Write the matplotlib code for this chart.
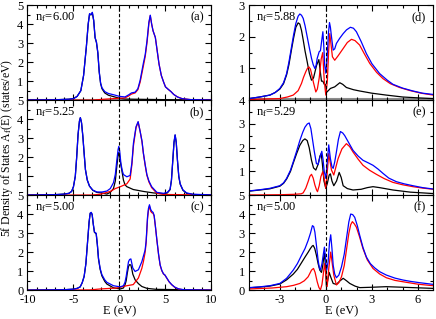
import numpy as np
import matplotlib
matplotlib.use("Agg")
import matplotlib.pyplot as plt
from matplotlib.ticker import MultipleLocator

plt.rcParams['font.family'] = ['Liberation Serif', 'DejaVu Serif']
plt.rcParams['mathtext.fontset'] = 'stix'
plt.rcParams['axes.unicode_minus'] = False
plt.rcParams['font.size'] = 9

# --- datos: (E, A_f) ---
# columna izquierda
a_blue = [(-10, 0.01), (-7, 0.02), (-5.5, 0.05), (-5, 0.08), (-4.6, 0.2), (-4.2, 0.5), (-3.9, 1.3), (-3.6, 2.8),
          (-3.4, 4.0), (-3.25, 4.55), (-3.1, 4.5), (-2.95, 4.62), (-2.8, 4.2), (-2.65, 3.3), (-2.5, 3.05),
          (-2.35, 2.5), (-2.2, 1.5), (-2.05, 0.9), (-1.9, 0.65), (-1.6, 0.45), (-1.2, 0.35), (-0.6, 0.28),
          (0, 0.2), (0.6, 0.17), (1.0, 0.28), (1.3, 0.38), (1.7, 0.42), (2.0, 0.6), (2.25, 1.05), (2.6, 1.95),
          (2.8, 2.4), (3.0, 3.15), (3.2, 4.1), (3.35, 4.47), (3.5, 4.0), (3.65, 3.65), (3.9, 3.3), (4.1, 2.6),
          (4.3, 1.9), (4.55, 1.3), (4.8, 0.95), (5.0, 0.7), (5.3, 0.57), (5.6, 0.45), (5.9, 0.3), (6.3, 0.17),
          (6.8, 0.08), (7.7, 0.03), (10, 0.01)]
a_red = [(-10, 0), (-3, 0), (-2.2, 0.03), (-1, 0.07), (0, 0.1), (0.6, 0.12), (1.0, 0.22), (1.3, 0.32), (1.7, 0.38),
         (2.0, 0.55), (2.25, 0.95), (2.6, 1.8), (2.8, 2.3), (3.0, 3.05), (3.2, 4.05), (3.35, 4.45), (3.5, 4.0),
         (3.65, 3.65), (3.9, 3.3), (4.1, 2.6), (4.3, 1.9), (4.55, 1.3), (4.8, 0.95), (5.0, 0.7), (5.3, 0.57),
         (5.6, 0.45), (5.9, 0.3), (6.3, 0.17), (6.8, 0.08), (7.7, 0.03), (10, 0.01)]
a_black = [(-10, 0.01), (-7, 0.02), (-5.5, 0.05), (-5, 0.08), (-4.6, 0.2), (-4.2, 0.5), (-3.9, 1.3), (-3.6, 2.8),
           (-3.4, 4.0), (-3.25, 4.53), (-3.1, 4.48), (-2.95, 4.6), (-2.8, 4.18), (-2.65, 3.28), (-2.5, 3.03),
           (-2.35, 2.48), (-2.2, 1.47), (-2.05, 0.87), (-1.9, 0.6), (-1.6, 0.38), (-1.2, 0.26), (-0.6, 0.18),
           (0, 0.1), (0.6, 0.06), (1.5, 0.05), (3, 0.04), (6, 0.02), (10, 0.01)]

b_blue = [(-10, 0.01), (-7, 0.03), (-6, 0.06), (-5.5, 0.1), (-5.2, 0.2), (-5.0, 0.45), (-4.8, 1.0), (-4.65, 2.0),
          (-4.5, 3.2), (-4.35, 3.9), (-4.25, 4.08), (-4.12, 3.8), (-3.98, 3.1), (-3.84, 2.2), (-3.7, 1.35),
          (-3.5, 0.8), (-3.26, 0.48), (-2.9, 0.27), (-2.46, 0.17), (-1.9, 0.17), (-1.37, 0.22), (-1.0, 0.35),
          (-0.65, 0.66), (-0.45, 1.1), (-0.28, 1.87), (-0.15, 2.4), (-0.07, 2.57), (0.03, 2.3), (0.15, 1.7),
          (0.3, 1.3), (0.43, 1.09), (0.8, 0.97), (1.16, 1.04), (1.35, 1.7), (1.52, 2.74), (1.8, 3.6), (2.03, 3.87),
          (2.25, 3.35), (2.45, 2.85), (2.6, 2.22), (2.8, 1.6), (2.98, 1.09), (3.2, 0.75), (3.5, 0.45), (4.07, 0.15),
          (4.8, 0.1), (5.2, 0.15), (5.5, 0.31), (5.65, 0.8), (5.8, 1.87), (5.93, 2.8), (6.05, 3.18), (6.17, 2.8),
          (6.3, 1.87), (6.45, 1.0), (6.6, 0.6), (6.9, 0.28), (7.3, 0.12), (8, 0.05), (10, 0.02)]
b_red = [(-10, 0), (-3, 0.01), (-2.1, 0.05), (-1.0, 0.2), (-0.45, 0.35), (0.1, 0.45), (0.8, 0.6), (1.16, 0.85),
         (1.35, 1.6), (1.52, 2.6), (1.8, 3.55), (2.03, 3.85), (2.25, 3.35), (2.45, 2.8), (2.6, 2.2), (2.8, 1.55),
         (2.98, 1.05), (3.2, 0.7), (3.5, 0.4), (4.07, 0.1), (4.8, 0.04), (10, 0.01)]
b_black = [(-10, 0.01), (-7, 0.03), (-6, 0.06), (-5.5, 0.1), (-5.2, 0.2), (-5.0, 0.45), (-4.8, 1.0), (-4.65, 2.0),
           (-4.5, 3.2), (-4.35, 3.9), (-4.25, 4.08), (-4.12, 3.8), (-3.98, 3.1), (-3.84, 2.2), (-3.7, 1.35),
           (-3.5, 0.8), (-3.26, 0.48), (-2.9, 0.26), (-2.46, 0.15), (-1.9, 0.12), (-1.37, 0.06), (-1.0, 0.15),
           (-0.65, 0.35), (-0.45, 0.75), (-0.28, 1.55), (-0.15, 2.1), (-0.07, 2.25), (0.03, 2.0), (0.15, 1.6),
           (0.26, 1.3), (0.43, 0.8), (0.6, 0.55), (0.8, 0.45), (1.5, 0.3), (2.6, 0.2), (3.7, 0.12), (4.8, 0.08),
           (5.2, 0.12), (5.5, 0.29), (5.65, 0.78), (5.8, 1.85), (5.93, 2.78), (6.05, 3.16), (6.17, 2.78),
           (6.3, 1.85), (6.45, 0.98), (6.6, 0.58), (6.9, 0.26), (7.3, 0.1), (8, 0.04), (10, 0.01)]

c_blue = [(-10, 0.01), (-6, 0.03), (-5, 0.06), (-4.6, 0.1), (-4.27, 0.18), (-4.05, 0.4), (-3.84, 0.73), (-3.65, 1.4),
          (-3.48, 2.47), (-3.3, 3.6), (-3.18, 4.06), (-3.07, 4.1), (-2.97, 4.0), (-2.85, 3.5), (-2.72, 3.07),
          (-2.53, 3.0), (-2.4, 2.4), (-2.28, 1.69), (-2.1, 1.15), (-1.91, 0.82), (-1.6, 0.55), (-1.37, 0.42),
          (-0.65, 0.24), (0.08, 0.18), (0.43, 0.24), (0.6, 0.42), (0.73, 0.73), (0.85, 1.1), (0.98, 1.5),
          (1.1, 1.62), (1.24, 1.65), (1.35, 1.4), (1.45, 1.17), (1.7, 0.99), (2.06, 1.08), (2.43, 1.5), (2.79, 2.12),
          (2.9, 2.6), (3.05, 3.85), (3.15, 4.3), (3.26, 4.5), (3.4, 4.25), (3.52, 4.15), (3.65, 4.1), (3.77, 3.94),
          (3.9, 3.4), (4.07, 2.64), (4.25, 1.9), (4.42, 1.34), (4.6, 1.05), (4.78, 0.87), (4.95, 0.8), (5.14, 0.65),
          (5.4, 0.45), (5.68, 0.3), (6.0, 0.17), (6.4, 0.08), (7, 0.03), (10, 0.01)]
c_red = [(-10, 0), (-3.2, 0.02), (-2.1, 0.07), (-0.3, 0.12), (0.8, 0.24), (1.5, 0.3), (2.06, 0.65), (2.43, 1.15),
         (2.6, 1.5), (2.79, 2.0), (2.9, 2.5), (3.05, 3.75), (3.15, 4.2), (3.26, 4.42), (3.4, 4.15), (3.52, 4.08),
         (3.65, 4.05), (3.77, 3.9), (3.9, 3.38), (4.07, 2.62), (4.25, 1.88), (4.42, 1.32), (4.6, 1.03), (4.78, 0.86),
         (4.95, 0.79), (5.14, 0.64), (5.4, 0.44), (5.68, 0.29), (6.0, 0.16), (6.4, 0.07), (7, 0.02), (10, 0.01)]
c_black = [(-10, 0.01), (-6, 0.03), (-5, 0.06), (-4.6, 0.1), (-4.27, 0.18), (-4.05, 0.4), (-3.84, 0.73), (-3.65, 1.4),
           (-3.48, 2.47), (-3.3, 3.6), (-3.18, 4.05), (-3.07, 4.08), (-2.97, 3.98), (-2.85, 3.48), (-2.72, 3.05),
           (-2.53, 2.97), (-2.4, 2.37), (-2.28, 1.65), (-2.1, 1.1), (-1.91, 0.76), (-1.6, 0.47), (-1.37, 0.33),
           (-0.65, 0.13), (0.08, 0.07), (0.43, 0.12), (0.6, 0.28), (0.73, 0.5), (0.85, 0.9), (0.98, 1.25),
           (1.1, 1.35), (1.24, 1.33), (1.35, 1.1), (1.45, 0.85), (1.7, 0.55), (2.06, 0.35), (2.43, 0.2), (3.0, 0.1),
           (4, 0.05), (10, 0.01)]

# columna derecha
d_blue = [(-5, 0.05), (-4.3, 0.1), (-3.64, 0.16), (-3.3, 0.24), (-2.99, 0.37), (-2.75, 0.55), (-2.55, 0.84),
          (-2.4, 1.2), (-2.23, 1.68), (-2.1, 2.05), (-1.95, 2.42), (-1.8, 2.65), (-1.69, 2.72), (-1.58, 2.68),
          (-1.47, 2.58), (-1.35, 2.35), (-1.21, 2.0), (-1.07, 1.65), (-0.93, 1.32), (-0.82, 1.12), (-0.71, 1.0),
          (-0.63, 1.1), (-0.56, 1.32), (-0.43, 1.53), (-0.35, 1.56), (-0.26, 1.9), (-0.19, 2.16), (-0.13, 1.7),
          (-0.07, 1.1), (0.0, 0.85), (0.08, 1.3), (0.17, 2.1), (0.24, 2.45), (0.3, 2.3), (0.37, 2.0), (0.48, 1.58),
          (0.58, 1.62), (0.69, 1.79), (0.9, 1.95), (1.13, 2.1), (1.35, 2.22), (1.6, 2.3), (1.8, 2.27), (1.99, 2.16),
          (2.3, 1.85), (2.64, 1.47), (3.0, 1.15), (3.5, 0.84), (4.0, 0.63), (4.37, 0.5), (5.0, 0.38), (5.67, 0.29),
          (6.3, 0.22), (7, 0.18)]
d_red = [(-5, 0.02), (-3, 0.05), (-2.5, 0.1), (-2.12, 0.16), (-1.8, 0.3), (-1.58, 0.53), (-1.45, 0.72), (-1.3, 0.9),
         (-1.2, 1.0), (-1.1, 1.05), (-1.0, 0.98), (-0.93, 0.84), (-0.8, 0.55), (-0.65, 0.26), (-0.55, 0.35),
         (-0.43, 0.7), (-0.3, 1.3), (-0.2, 1.5), (-0.1, 0.6), (0.0, 0.16), (0.1, 0.6), (0.19, 1.6), (0.26, 2.1),
         (0.33, 1.8), (0.43, 1.37), (0.58, 1.26), (0.8, 1.4), (1.13, 1.63), (1.4, 1.82), (1.67, 1.92), (1.9, 1.88),
         (2.2, 1.74), (2.5, 1.47), (2.86, 1.16), (3.3, 0.88), (3.72, 0.68), (4.2, 0.52), (4.8, 0.4), (5.5, 0.3),
         (6.2, 0.22), (7, 0.16)]
d_black = [(-5, 0.05), (-4.3, 0.1), (-3.64, 0.16), (-3.3, 0.24), (-2.99, 0.35), (-2.75, 0.52), (-2.55, 0.8),
           (-2.4, 1.12), (-2.23, 1.6), (-2.1, 1.95), (-1.95, 2.3), (-1.8, 2.44), (-1.69, 2.4), (-1.58, 2.2),
           (-1.47, 1.9), (-1.35, 1.55), (-1.21, 1.21), (-1.07, 0.85), (-0.93, 0.63), (-0.8, 0.7), (-0.6, 1.1),
           (-0.45, 1.28), (-0.36, 0.9), (-0.28, 0.6), (-0.19, 0.6), (-0.1, 0.5), (-0.02, 0.5), (0.06, 0.25),
           (0.3, 0.37), (0.58, 0.42), (0.91, 0.55), (1.1, 0.5), (1.34, 0.4), (1.8, 0.33), (2.2, 0.29), (3.0, 0.22),
           (3.94, 0.16), (5, 0.1), (6.1, 0.07), (7, 0.05)]

e_blue = [(-5, 0.18), (-4.3, 0.23), (-3.64, 0.29), (-2.99, 0.4), (-2.75, 0.52), (-2.55, 0.71), (-2.3, 1.05),
          (-2.12, 1.4), (-1.9, 1.85), (-1.69, 2.3), (-1.5, 2.65), (-1.36, 2.86), (-1.2, 3.0), (-1.08, 3.04),
          (-0.97, 2.8), (-0.87, 2.37), (-0.75, 1.85), (-0.61, 1.33), (-0.5, 1.3), (-0.38, 1.6), (-0.26, 1.85),
          (-0.18, 1.5), (-0.1, 1.0), (0.0, 0.71), (0.08, 1.3), (0.19, 2.12), (0.3, 1.54), (0.4, 1.2), (0.48, 1.13),
          (0.58, 1.4), (0.69, 1.82), (0.82, 2.35), (0.95, 2.68), (1.1, 2.62), (1.23, 2.51), (1.5, 2.2), (1.77, 1.89),
          (2.1, 1.65), (2.42, 1.47), (2.8, 1.35), (3.07, 1.26), (3.4, 1.1), (3.72, 0.92), (4.1, 0.72), (4.59, 0.57),
          (5.1, 0.48), (5.67, 0.4), (6.3, 0.32), (7, 0.26)]
e_red = [(-5, 0.01), (-3, 0.02), (-2, 0.04), (-1.6, 0.06), (-1.47, 0.1), (-1.3, 0.3), (-1.15, 0.57), (-1.03, 0.8),
         (-0.93, 0.88), (-0.82, 0.72), (-0.71, 0.43), (-0.6, 0.22), (-0.54, 0.15), (-0.43, 0.4), (-0.32, 0.78),
         (-0.2, 0.99), (-0.1, 0.7), (0.0, 0.29), (0.1, 1.0), (0.19, 1.75), (0.28, 1.4), (0.37, 1.06), (0.52, 0.85),
         (0.8, 1.54), (1.05, 1.95), (1.34, 2.17), (1.55, 2.05), (1.77, 1.82), (2.1, 1.52), (2.42, 1.26),
         (2.85, 1.05), (3.29, 0.88), (3.8, 0.7), (4.37, 0.54), (5.0, 0.44), (5.67, 0.36), (6.3, 0.3), (7, 0.25)]
e_black = [(-5, 0.17), (-4.3, 0.22), (-3.64, 0.27), (-2.99, 0.38), (-2.75, 0.5), (-2.55, 0.68), (-2.3, 1.0),
           (-2.12, 1.35), (-1.9, 1.75), (-1.69, 2.1), (-1.5, 2.3), (-1.36, 2.37), (-1.21, 2.3), (-1.08, 2.0),
           (-0.93, 1.47), (-0.8, 1.15), (-0.65, 1.06), (-0.5, 1.3), (-0.38, 1.65), (-0.3, 1.75), (-0.22, 1.3),
           (-0.12, 0.6), (0.0, 0.29), (0.1, 0.5), (0.22, 0.85), (0.3, 0.9), (0.4, 0.6), (0.52, 0.4), (0.7, 0.6),
           (0.87, 0.96), (1.0, 0.75), (1.13, 0.4), (1.4, 0.28), (1.77, 0.22), (2.3, 0.25), (2.7, 0.32), (3.07, 0.36),
           (3.5, 0.32), (4.37, 0.22), (5.5, 0.13), (7, 0.07)]

f_blue = [(-5, 0.14), (-4.3, 0.18), (-3.64, 0.24), (-2.99, 0.36), (-2.55, 0.63), (-2.12, 1.06), (-1.85, 1.4),
          (-1.58, 1.84), (-1.35, 2.2), (-1.15, 2.62), (-1.0, 3.0), (-0.87, 3.4), (-0.79, 3.35), (-0.71, 3.06),
          (-0.6, 2.3), (-0.5, 1.58), (-0.42, 1.2), (-0.35, 1.06), (-0.25, 1.4), (-0.17, 1.84), (-0.09, 2.27),
          (-0.02, 1.7), (0.06, 1.06), (0.15, 1.5), (0.24, 2.5), (0.32, 2.92), (0.4, 2.2), (0.48, 1.32), (0.58, 0.85),
          (0.69, 0.66), (0.85, 0.8), (1.02, 1.23), (1.2, 1.9), (1.34, 2.7), (1.5, 3.6), (1.62, 4.01), (1.75, 3.98),
          (1.88, 3.84), (2.05, 3.4), (2.21, 2.88), (2.42, 2.25), (2.64, 1.75), (2.9, 1.4), (3.18, 1.18), (3.5, 0.98),
          (3.94, 0.8), (4.5, 0.64), (5.02, 0.54), (5.5, 0.47), (6.1, 0.4), (7, 0.31)]
f_red = [(-5, 0.07), (-3.5, 0.12), (-2.55, 0.19), (-2.1, 0.26), (-1.69, 0.36), (-1.4, 0.5), (-1.15, 0.71),
         (-0.93, 1.06), (-0.8, 1.15), (-0.7, 0.95), (-0.56, 0.45), (-0.45, 0.15), (-0.35, 0.02), (-0.25, 0.3),
         (-0.17, 0.8), (-0.08, 1.4), (-0.02, 1.0), (0.09, 0.2), (0.2, 1.2), (0.32, 2.01), (0.42, 1.4), (0.52, 0.8),
         (0.69, 0.28), (0.85, 0.4), (1.02, 0.71), (1.2, 1.3), (1.34, 2.1), (1.5, 3.0), (1.62, 3.45), (1.73, 3.61),
         (1.85, 3.5), (1.99, 3.32), (2.2, 2.8), (2.42, 2.19), (2.7, 1.6), (3.07, 1.15), (3.5, 0.86), (3.94, 0.66),
         (4.5, 0.52), (5.24, 0.42), (6, 0.32), (7, 0.24)]
f_black = [(-5, 0.13), (-4.3, 0.17), (-3.64, 0.22), (-2.99, 0.33), (-2.55, 0.55), (-2.12, 0.85), (-1.85, 1.1),
           (-1.58, 1.45), (-1.35, 1.75), (-1.15, 2.0), (-1.0, 2.2), (-0.88, 2.33), (-0.82, 2.36), (-0.72, 2.2),
           (-0.61, 1.84), (-0.5, 1.4), (-0.39, 1.06), (-0.28, 0.94), (-0.2, 1.3), (-0.13, 1.75), (-0.08, 1.95),
           (-0.02, 1.2), (0.04, 0.2), (0.12, 0.5), (0.22, 0.94), (0.32, 0.7), (0.48, 0.36), (0.69, 0.31), (0.9, 0.48),
           (1.13, 0.63), (1.35, 0.5), (1.56, 0.36), (1.9, 0.22), (2.21, 0.14), (3.0, 0.16), (3.94, 0.19), (5.0, 0.16),
           (7, 0.1)]

nf_labels = ["6.00", "5.25", "5.00", "5.88", "5.29", "5.00"]
letras = ["(a)", "(b)", "(c)", "(d)", "(e)", "(f)"]
ymax_izq = [5, 5, 5]
ymax_der = [3, 4, 5]

paneles = [(a_black, a_red, a_blue), (b_black, b_red, b_blue), (c_black, c_red, c_blue),
           (d_black, d_red, d_blue), (e_black, e_red, e_blue), (f_black, f_red, f_blue)]

fig = plt.figure(figsize=(4.36, 3.19), dpi=100)
gs_izq = fig.add_gridspec(3, 1, left=0.063, right=0.485, top=0.984, bottom=0.09, hspace=0)
gs_der = fig.add_gridspec(3, 1, left=0.571, right=0.994, top=0.984, bottom=0.09, hspace=0)

for k in range(6):
    col = k // 3
    fila = k % 3
    ax = fig.add_subplot((gs_izq if col == 0 else gs_der)[fila, 0])
    negro, rojo, azul = paneles[k]
    if fila == 0:
        ax.axhline(0.03, color='0.55', lw=1.5, zorder=1)
    for serie, c in [(negro, 'k'), (rojo, 'r'), (azul, 'b')]:
        E = [p[0] for p in serie]
        A = [p[1] for p in serie]
        ax.plot(E, A, color=c, lw=0.9, zorder=2)
    ax.axvline(0, color='k', ls=(0, (3, 2)), lw=0.8)

    if col == 0:
        ax.set_xlim(-10, 10)
        ax.set_ylim(0, ymax_izq[fila])
        ax.xaxis.set_major_locator(MultipleLocator(5))
        ax.xaxis.set_minor_locator(MultipleLocator(1))
    else:
        ax.set_xlim(-5, 7)
        ax.set_ylim(0, ymax_der[fila])
        ax.xaxis.set_major_locator(MultipleLocator(3))
        ax.xaxis.set_minor_locator(MultipleLocator(1))
    ax.yaxis.set_major_locator(MultipleLocator(1))
    ax.yaxis.set_minor_locator(MultipleLocator(0.5))
    ax.tick_params(which='both', direction='in', top=True, right=True, labelsize=9, pad=2)
    ax.tick_params(axis='y', pad=3)
    ax.tick_params(which='major', length=4, width=0.8)
    ax.tick_params(which='minor', length=2, width=0.8)
    for s in ax.spines.values():
        s.set_linewidth(0.8)

    if fila < 2:
        ax.set_xticklabels([])
        ymax = ax.get_ylim()[1]
        ax.set_yticks(np.arange(1, ymax + 0.5, 1))
    else:
        ax.set_xlabel("E (eV)", fontsize=9, labelpad=0)
        ax.tick_params(axis='x', pad=2.5)

    ax.text(0.04, 0.84, r"n$_\mathrm{f}$=" + nf_labels[k], transform=ax.transAxes, fontsize=9)
    ax.text(0.96, 0.84, letras[k], transform=ax.transAxes, fontsize=9, ha='right')

fig.text(0.017, 0.536, r"5f Density of States A$_\mathrm{f}$(E) (states/eV)", rotation=90,
         va='center', ha='center', fontsize=8.5)

fig.savefig("out.png", dpi=100)
